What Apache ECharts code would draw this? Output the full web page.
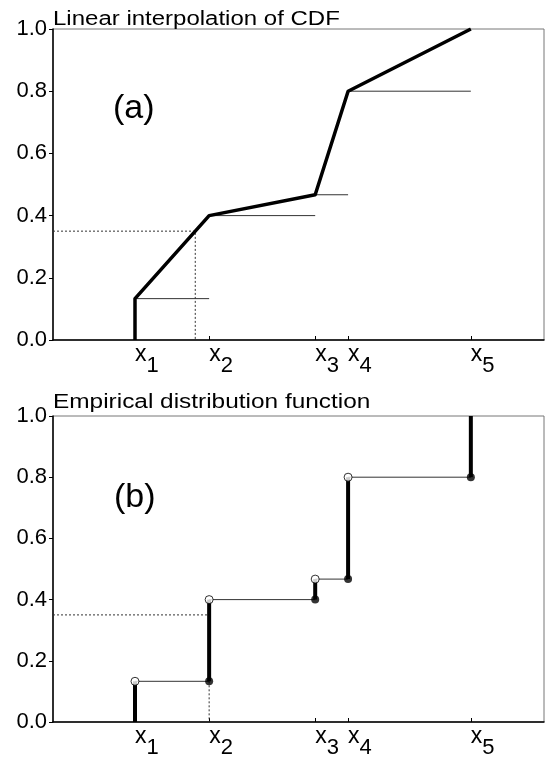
<!DOCTYPE html>
<html>
<head>
<meta charset="utf-8">
<script src="https://cdn.jsdelivr.net/npm/echarts@6/dist/echarts.min.js"></script>
<style>
html,body{margin:0;padding:0;background:#fff;}
#chart{width:546px;height:759px;}
</style>
</head>
<body>
<div id="chart"></div>
<script>
// ---- data ----
const sampleX = [1.67, 3.18, 5.34, 6.01, 8.51];      // x1..x5 positions
const cdfValues = [0.133, 0.4, 0.467, 0.8, 1.0];    // F at each sample
const subscripts = ['1', '2', '3', '4', '5'];
const queryP = 0.35;                                 // dotted probability level
const panelTitles = ['Linear interpolation of CDF', 'Empirical distribution function'];
const panelTags = ['(a)', '(b)'];

// ---- derived ----
function interpInverse(p) {
  for (let i = 0; i < cdfValues.length - 1; i++) {
    if (p >= cdfValues[i] && p <= cdfValues[i + 1]) {
      const t = (p - cdfValues[i]) / (cdfValues[i + 1] - cdfValues[i]);
      return sampleX[i] + t * (sampleX[i + 1] - sampleX[i]);
    }
  }
  return sampleX[0];
}
const xq = interpInverse(queryP);
const edfIdx = cdfValues.findIndex(v => v > queryP);

const FONT = '"Liberation Sans", Arial, Helvetica, sans-serif';
const THIN = { color: '#333', width: 1 };
const DOT = { color: '#333', width: 1, type: [2, 2] };

function seg(pts, g, style, z) {
  return { type: 'line', xAxisIndex: g, yAxisIndex: g, data: pts, symbol: 'none',
           lineStyle: style, z: z, silent: true, animation: false };
}

const series = [];
// Panel (a)
const thickA = [[sampleX[0], 0]];
sampleX.forEach((x, i) => thickA.push([x, cdfValues[i]]));
for (let i = 0; i < sampleX.length - 1; i++) {
  series.push(seg([[sampleX[i], cdfValues[i]], [sampleX[i + 1], cdfValues[i]]], 0, THIN, 2));
}
series.push(seg([[0, queryP], [xq, queryP], [xq, 0]], 0, DOT, 2));
series.push(seg(thickA, 0, { color: '#000', width: 3.5, join: 'round', cap: 'butt' }, 5));

// Panel (b)
for (let i = 0; i < sampleX.length - 1; i++) {
  series.push(seg([[sampleX[i], cdfValues[i]], [sampleX[i + 1], cdfValues[i]]], 1, THIN, 2));
}
series.push(seg([[0, queryP], [sampleX[edfIdx], queryP]], 1, DOT, 2));
series.push(seg([[sampleX[edfIdx], cdfValues[edfIdx - 1]], [sampleX[edfIdx], 0]], 1, DOT, 2));
for (let i = 0; i < sampleX.length; i++) {
  const lo = i === 0 ? 0 : cdfValues[i - 1];
  series.push(seg([[sampleX[i], lo], [sampleX[i], cdfValues[i]]], 1, { color: '#000', width: 4 }, 5));
}
series.push({
  type: 'scatter', xAxisIndex: 1, yAxisIndex: 1, symbol: 'circle', symbolSize: 8, z: 8,
  data: sampleX.slice(0, -1).map((x, i) => [x, cdfValues[i]]),
  itemStyle: { color: '#fff', borderColor: '#000', borderWidth: 1 }, silent: true, animation: false
});
series.push({
  type: 'scatter', xAxisIndex: 1, yAxisIndex: 1, symbol: 'circle', symbolSize: 8, z: 8,
  data: sampleX.slice(1).map((x, i) => [x, cdfValues[i]]),
  itemStyle: { color: '#000' }, silent: true, animation: false
});

function xAxisDef(g) {
  return {
    type: 'value', gridIndex: g, min: 0, max: 10,
    axisLine: { lineStyle: { color: '#000', width: 1.5 } },
    axisTick: { customValues: sampleX, inside: true, length: 4, lineStyle: { color: '#000', width: 1 } },
    splitLine: { show: false },
    axisLabel: {
      customValues: sampleX, margin: 3, align: 'left',
      formatter: function (v) {
        let best = 0;
        sampleX.forEach((x, i) => { if (Math.abs(x - v) < Math.abs(sampleX[best] - v)) best = i; });
        return '{x|x}{s|' + subscripts[best] + '}';
      },
      rich: {
        x: { fontFamily: FONT, fontSize: 23, color: '#000', lineHeight: 34, verticalAlign: 'top' },
        s: { fontFamily: FONT, fontSize: 22, color: '#000', lineHeight: 34, verticalAlign: 'bottom' }
      }
    }
  };
}
function yAxisDef(g) {
  return {
    type: 'value', gridIndex: g, min: 0, max: 1, interval: 0.2,
    axisLine: { show: true, lineStyle: { color: '#000', width: 1.5 } },
    axisTick: { show: true, inside: false, length: 4, lineStyle: { color: '#000', width: 1 } },
    splitLine: { show: false },
    axisLabel: { margin: 6, fontFamily: FONT, fontSize: 22, color: '#000', formatter: v => v.toFixed(1) }
  };
}

const option = {
  animation: false,
  backgroundColor: '#fff',
  grid: [
    { left: 53, top: 29, width: 491, height: 311, show: true, borderColor: '#777', borderWidth: 1, containLabel: false },
    { left: 53, top: 416, width: 491, height: 309, show: true, borderColor: '#777', borderWidth: 1, containLabel: false }
  ],
  xAxis: [xAxisDef(0), xAxisDef(1)],
  yAxis: [yAxisDef(0), yAxisDef(1)],
  graphic: [
    { type: 'text', x: 53, y: 19, scaleX: 1.2, silent: true,
      style: { text: panelTitles[0], fontFamily: FONT, fontSize: 20, fill: '#000', align: 'left', verticalAlign: 'middle' } },
    { type: 'text', x: 53, y: 402.5, scaleX: 1.22, silent: true,
      style: { text: panelTitles[1], fontFamily: FONT, fontSize: 20, fill: '#000', align: 'left', verticalAlign: 'middle' } },
    { type: 'text', x: 113, y: 109, silent: true,
      style: { text: panelTags[0], fontFamily: FONT, fontSize: 34, fill: '#000', align: 'left', verticalAlign: 'middle' } },
    { type: 'text', x: 114, y: 498, silent: true,
      style: { text: panelTags[1], fontFamily: FONT, fontSize: 34, fill: '#000', align: 'left', verticalAlign: 'middle' } }
  ],
  series: series
};

const chart = echarts.init(document.getElementById('chart'), null, { renderer: 'canvas' });
chart.setOption(option);
</script>
</body>
</html>
